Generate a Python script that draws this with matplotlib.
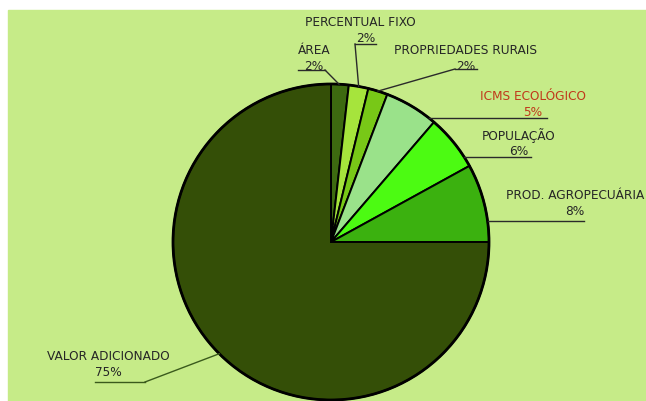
import numpy as np
import matplotlib
matplotlib.use("Agg")
import matplotlib.pyplot as plt
from matplotlib.patches import Rectangle

###############################################################################

categories = ["ÁREA", "PERCENTUAL FIXO", "PROPRIEDADES RURAIS", "ICMS ECOLÓGICO",
              "POPULAÇÃO", "PROD. AGROPECUÁRIA", "VALOR ADICIONADO"]
values = [1.8, 2.0, 2.0, 5.5, 5.7, 8.0, 75.0]
pct_labels = ["2%", "2%", "2%", "5%", "6%", "8%", "75%"]
colors = ["#3d6a10", "#a6e43c", "#78c817", "#9ae28a", "#4cfb12", "#3bb10f", "#344f07"]

###############################################################################

W, H = 646, 402
fig = plt.figure(figsize=(W / 100, H / 100), dpi=100)
ax = fig.add_axes([0, 0, 1, 1])

# green panel
ax.add_patch(Rectangle((8, 0), W - 8, H - 11, color="#c6eb88", zorder=0))

cx, cy, r = 331, H - 243, 158
wedges, _ = ax.pie(values, colors=colors, startangle=90, counterclock=False,
                   center=(cx, cy), radius=r, frame=True,
                   wedgeprops=dict(edgecolor="black", linewidth=1.4))
ax.set_xlim(0, W)
ax.set_ylim(0, H)
ax.set_aspect("equal")
ax.axis("off")
ax.add_patch(plt.Circle((cx, cy), r, fill=False, edgecolor="black", lw=2, zorder=5))

# label layout: text x, text y, line x0, line x1 (joint), line y, leader fraction
layout = {
    "ÁREA":                (314, 50, 298, 325, 71, 0.55),
    "PERCENTUAL FIXO":     (360, 22, 355, 376, 45, 0.5),
    "PROPRIEDADES RURAIS": (466, 50, 455, 477, 70, 0.5),
    "ICMS ECOLÓGICO":      (533, 96, None, 547, 119, 0.5),
    "POPULAÇÃO":           (519, 136, None, 531, 158, 0.5),
    "PROD. AGROPECUÁRIA":  (575, 196, None, 584, 222, 0.5),
    "VALOR ADICIONADO":    (108, 357, 145, 95, 383, 0.5),
}

for w, cat, pct in zip(wedges, categories, pct_labels):
    tx, ty, x0, x1, ly, frac = layout[cat]
    col = "#c0391b" if cat == "ICMS ECOLÓGICO" else "#262626"
    lcol = "#3a5a1c" if cat == "VALOR ADICIONADO" else "#2a2a2a"
    ax.text(tx, H - ty, cat, ha="center", va="center", fontsize=8.7, color=col)
    ax.text(tx + (6 if cat == "PERCENTUAL FIXO" else 0), H - ty - 16, pct,
            ha="center", va="center", fontsize=8.7, color=col)
    if x0 is None:
        # horizontal line from pie edge
        yy = H - ly
        ex = cx + np.sqrt(max(r ** 2 - (yy - cy) ** 2, 0))
        ax.plot([ex, x1], [yy, yy], color=lcol, lw=1, zorder=6)
    else:
        ang = np.deg2rad(w.theta1 + (w.theta2 - w.theta1) * frac)
        ex, ey = cx + r * np.cos(ang), cy + r * np.sin(ang)
        ax.plot([x1, x0], [H - ly, H - ly], color=lcol, lw=1, zorder=6)
        kx = x1 if abs(x1 - ex) < abs(x0 - ex) else x0
        ax.plot([kx, ex], [H - ly, ey], color=lcol, lw=1, zorder=6)

fig.savefig("out.png", dpi=100)
